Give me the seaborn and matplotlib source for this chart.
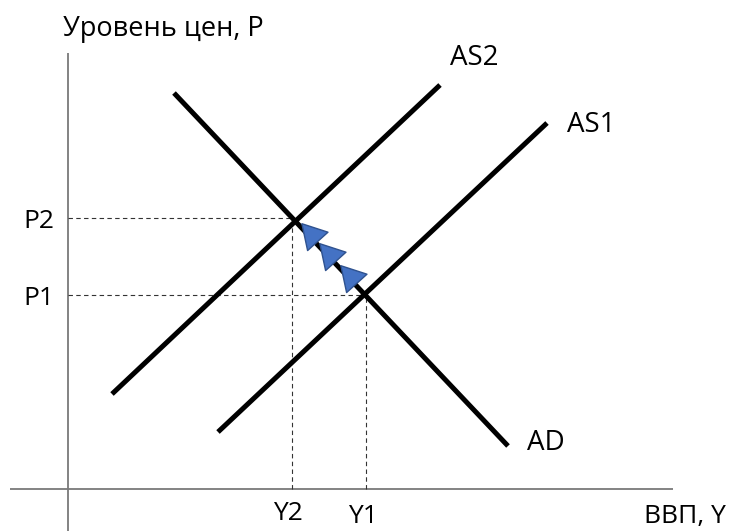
import matplotlib
matplotlib.use("Agg")
import matplotlib.pyplot as plt
import seaborn as sns
import pandas as pd

sns.set_theme(style="white")
plt.rcParams['font.family'] = ['Open Sans', 'DejaVu Sans']

# Schematic coordinates (arbitrary units: x = output, y = price level)
AD_x = [174, 508]
AD_y = [438, 85]
AS1_x = [218, 547]
AS1_y = [99, 408]
AS2_x = [112, 440]
AS2_y = [137, 446]

Y1, P1 = 366, 236   # initial equilibrium
Y2, P2 = 292, 313   # new equilibrium

origin = (68, 42)
x_axis_x = [10, 673]
y_axis_y = [0, 478]

arrow_x = [311.7, 330.0, 351.3]
arrow_y = [296.0, 276.0, 253.7]

curve_labels = ["AS2", "AS1", "AD"]
curve_label_pos = [(450, 466), (567, 399), (527, 81)]
tick_labels_y = ["P2", "P1"]
tick_labels_y_pos = [(23, 303), (23, 226)]
tick_labels_x = ["Y2", "Y1"]
tick_labels_x_pos = [(273, 11), (348, 8)]
x_title = "ВВП, Y"
y_title = "Уровень цен, P"

fig = plt.figure(figsize=(7.32, 5.31), dpi=100)
ax = fig.add_axes([0, 0, 1, 1])
ax.set_xlim(0, 732)
ax.set_ylim(0, 531)
ax.axis('off')

# axes lines
ax.plot(x_axis_x, [origin[1]] * 2, color='#7a7a7a', lw=1.3, solid_capstyle='butt')
ax.plot([origin[0]] * 2, y_axis_y, color='#7a7a7a', lw=1.3, solid_capstyle='butt')

# dashed guide lines
dash = dict(color='#333333', lw=0.8, linestyle=(0, (4, 3)))
ax.plot([origin[0], Y2], [P2, P2], **dash)
ax.plot([origin[0], Y1], [P1, P1], **dash)
ax.plot([Y2, Y2], [origin[1], P2], **dash)
ax.plot([Y1, Y1], [origin[1], P1], **dash)

# curves
for xs, ys in [(AD_x, AD_y), (AS1_x, AS1_y), (AS2_x, AS2_y)]:
    df = pd.DataFrame({"x": xs, "y": ys})
    sns.lineplot(data=df, x="x", y="y", sort=False, color='black', lw=3.6, ax=ax,
                 solid_capstyle='butt')

# arrowheads along AD
adf = pd.DataFrame({"x": arrow_x, "y": arrow_y})
sns.scatterplot(data=adf, x="x", y="y", marker=(3, 0, 42), s=520, color='#4472C4',
                edgecolor='#2F528F', linewidth=1.0, ax=ax, zorder=5)
ax.set_xlabel("")
ax.set_ylabel("")

fs = 20
for lab, (x, y) in zip(curve_labels, curve_label_pos):
    ax.text(x, y, lab, fontsize=fs, ha='left', va='baseline', color='black')
for lab, (x, y) in zip(tick_labels_y, tick_labels_y_pos):
    ax.text(x, y, lab, fontsize=fs - 1, ha='left', va='baseline', color='black')
for lab, (x, y) in zip(tick_labels_x, tick_labels_x_pos):
    ax.text(x, y, lab, fontsize=fs - 1, ha='left', va='baseline', color='black')
ax.text(644, 8, x_title, fontsize=19, ha='left', va='baseline', color='black')
ax.text(63, 495, y_title, fontsize=19.5, ha='left', va='baseline', color='black')

fig.savefig("out.png", dpi=100)
